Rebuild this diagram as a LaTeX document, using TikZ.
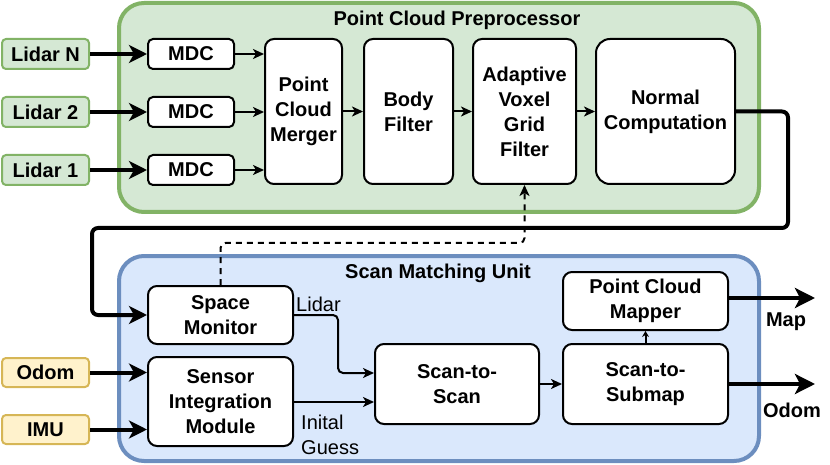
\documentclass[tikz,border=0pt]{standalone}
\usepackage{fontspec}
\setmainfont{Liberation Sans}
\usetikzlibrary{arrows.meta}
\definecolor{gfill}{HTML}{D5E8D4}
\definecolor{gline}{HTML}{82B366}
\definecolor{bfill}{HTML}{DAE8FC}
\definecolor{bline}{HTML}{6C8EBF}
\definecolor{yfill}{HTML}{FFF2CC}
\definecolor{yline}{HTML}{D6B656}
\tikzset{
  txt/.style={font=\bfseries\fontsize{20}{25}\selectfont},
  plain/.style={font=\fontsize{20}{25}\selectfont},
  box/.style={txt, draw=black, line width=2pt, fill=white, rounded corners=9pt, align=center, inner sep=0pt},
  inbox/.style={txt, line width=2pt, rounded corners=4pt, align=center, inner sep=0pt, minimum width=87pt},
  grn/.style={inbox, draw=gline, fill=gfill, minimum height=30pt},
  ylw/.style={inbox, draw=yline, fill=yfill, minimum height=29pt},
  container/.style={line width=4pt, rounded corners=25pt},
  thickarrow/.style={line width=4pt, -{Stealth[length=18pt,width=18pt,inset=5pt]}},
  bigarrow/.style={line width=4pt, -{Stealth[length=20pt,width=20pt,inset=5pt]}},
  thinarrow/.style={line width=2pt, -{Stealth[length=11pt,width=10pt,inset=3pt]}},
}
\begin{document}
\begin{tikzpicture}[x=1pt,y=-1pt]
\useasboundingbox (0,0) rectangle (830,465);
% containers
\draw[container, draw=gline, fill=gfill] (119,3) rectangle (759,212);
\draw[container, draw=bline, fill=bfill] (119,256) rectangle (759,461);
\node[txt] (t1) at (457,20) {Point Cloud Preprocessor};
\node[txt] (t2) at (438,273) {Scan Matching Unit};
% inputs
\node[grn] (lN) at (45.5,54) {Lidar N};
\node[grn] (l2) at (45.5,112) {Lidar 2};
\node[grn] (l1) at (45.5,170) {Lidar 1};
\node[ylw] (odin) at (45.5,372.5) {Odom};
\node[ylw] (imu) at (45.5,429.5) {IMU};
% preprocessor boxes
\node[box, minimum width=86pt, minimum height=30pt, rounded corners=5pt] (mN) at (191,54) {MDC};
\node[box, minimum width=86pt, minimum height=30pt, rounded corners=5pt] (m2) at (191,112) {MDC};
\node[box, minimum width=86pt, minimum height=30pt, rounded corners=5pt] (m1) at (191,170) {MDC};
\node[box, minimum width=77pt, minimum height=145pt] (pcm) at (303.5,111.5) {Point\\Cloud\\Merger};
\node[box, minimum width=89pt, minimum height=145pt] (bf) at (408.5,111.5) {Body\\Filter};
\node[box, minimum width=103pt, minimum height=145pt] (avg) at (524.5,111.5) {Adaptive\\Voxel\\Grid\\Filter};
\node[box, minimum width=139pt, minimum height=145pt, rounded corners=14pt] (nc) at (665.5,111.5) {Normal\\Computation};
% scan matching boxes
\node[box, minimum width=145pt, minimum height=58pt] (sm) at (220.5,315) {Space\\Monitor};
\node[box, minimum width=145pt, minimum height=89pt] (sim) at (220.5,401.5) {Sensor\\Integration\\Module};
\node[box, minimum width=164pt, minimum height=80pt] (s2s) at (457,384) {Scan-to-\\Scan};
\node[box, minimum width=165pt, minimum height=80pt] (sub) at (645.5,384) {Scan-to-\\Submap};
\node[box, minimum width=165pt, minimum height=58pt] (pm) at (645.5,301) {Point Cloud\\Mapper};
% outputs
\coordinate (mapend) at (815,298);
\coordinate (odend) at (815,384);
\node[txt] (maplbl) at (786,322) {Map};
\node[txt] (odlbl) at (792,410) {Odom};
\node[plain, anchor=west, inner sep=0pt] (lidlbl) at (296,304) {Lidar};
\node[plain, anchor=west, inner sep=0pt, align=left] (guesslbl) at (301,434.5) {Inital\\Guess};
% arrows
\draw[thickarrow] (lN.east) -- (mN.west);
\draw[thickarrow] (l2.east) -- (m2.west);
\draw[thickarrow] (l1.east) -- (m1.west);
\draw[thinarrow] (mN.east) -- (mN.east -| pcm.west);
\draw[thinarrow] (m2.east) -- (m2.east -| pcm.west);
\draw[thinarrow] (m1.east) -- (m1.east -| pcm.west);
\draw[thinarrow] (pcm.east) -- (bf.west);
\draw[thinarrow] (bf.east) -- (avg.west);
\draw[thinarrow] (avg.east) -- (nc.west);
\coordinate (c1) at (788,228);
\coordinate (c2) at (92,228);
\draw[thickarrow, rounded corners=6pt] (nc.east) -| (c1) -- (c2) |- (sm.west);
\coordinate (dy) at (0,243);
\draw[thinarrow, dashed, dash pattern=on 6pt off 5pt, rounded corners=5pt] (sm.north) |- (avg.south |- dy) -- (avg.south);
\draw[thickarrow] (odin.east) -- (odin.east -| sim.west);
\draw[thickarrow] (imu.east) -- (imu.east -| sim.west);
\draw[thinarrow, rounded corners=5pt] (sm.east) -- ++(44,0) |- ([yshift=11pt]s2s.west);
\draw[thinarrow] ([yshift=-0.5pt]sim.east) -- ([yshift=-0.5pt]sim.east -| s2s.west);
\draw[thinarrow] (s2s.east) -- (sub.west);
\draw[line width=2pt, -{Stealth[length=6pt,width=7pt,inset=2pt]}] (sub.north) -- (pm.south);
\draw[bigarrow] ([yshift=3pt]pm.east) -- (mapend);
\draw[bigarrow] (sub.east) -- (odend);
\end{tikzpicture}
\end{document}
